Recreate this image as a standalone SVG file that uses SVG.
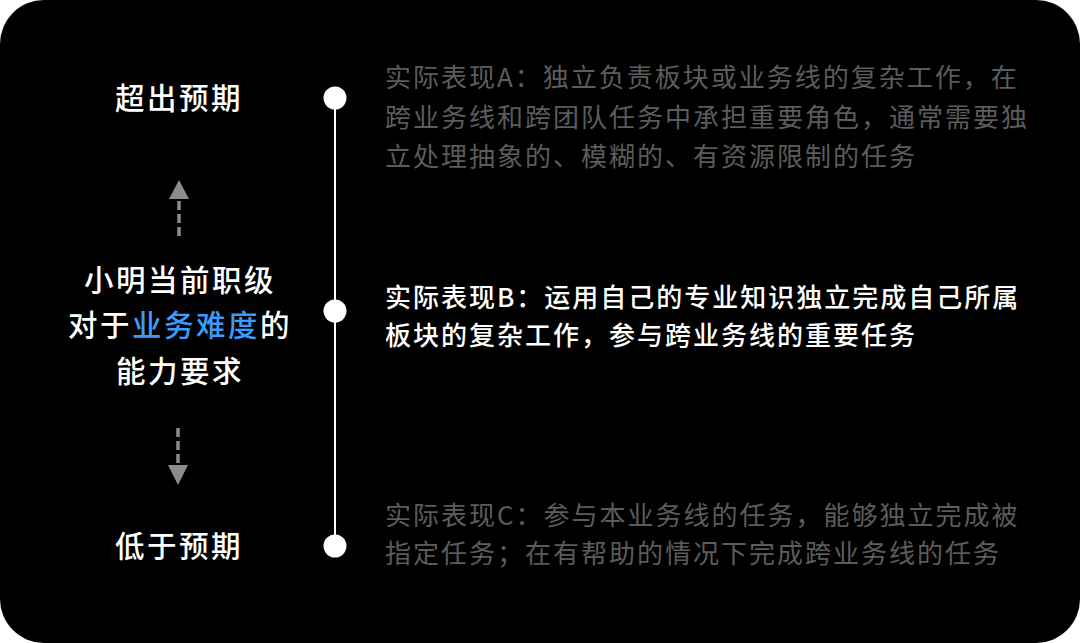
<svg xmlns="http://www.w3.org/2000/svg" width="1080" height="643" viewBox="0 0 1080 643">
<defs>
<style>
.lab{font-family:"Noto Sans CJK SC","Noto Sans",sans-serif;font-size:29.5px;font-weight:500;fill:#ffffff;text-anchor:middle;letter-spacing:2.5px;}
.hl{fill:#3a9cff;}
.desc{font-family:"Noto Sans CJK SC","Noto Sans",sans-serif;font-size:26px;letter-spacing:2px;}
.dim{fill:#5c5c5c;}
.bright{fill:#ffffff;font-weight:500;}
.dot{fill:#ffffff;}
.arr{stroke:#8c8c8c;stroke-width:3.5;stroke-dasharray:9 4;fill:none;}
.tri{fill:#8c8c8c;}
</style>
</defs>
<rect x="0" y="0" width="1080" height="643" fill="#ffffff"/>
<rect id="panel" x="0" y="0" width="1080" height="643" rx="44" ry="44" fill="#000000"/>
<g id="connectors">
<line x1="335" y1="98" x2="335" y2="546" stroke="#ffffff" stroke-width="2"/>
<line class="arr" x1="179" y1="236" x2="179" y2="200"/>
<polygon class="tri" points="179,180 169,199 189,199"/>
<line class="arr" x1="178" y1="428" x2="178" y2="465"/>
<polygon class="tri" points="178,485 168,465 188,465"/>
</g>
<g id="node-high">
<text class="lab" x="179" y="109">超出预期</text>
<circle class="dot" cx="335" cy="98" r="11.5"/>
<text class="desc dim" x="385" y="87">实际表现A：独立负责板块或业务线的复杂工作，在</text>
<text class="desc dim" x="385" y="127">跨业务线和跨团队任务中承担重要角色，通常需要独</text>
<text class="desc dim" x="385" y="166">立处理抽象的、模糊的、有资源限制的任务</text>
</g>
<g id="node-center">
<text class="lab" x="180" y="291">小明当前职级</text>
<text class="lab" x="180" y="336">对于<tspan class="hl">业务难度</tspan>的</text>
<text class="lab" x="180" y="382">能力要求</text>
</g>
<g id="node-mid">
<circle class="dot" cx="335" cy="311" r="11.5"/>
<text class="desc bright" x="385" y="307">实际表现B：运用自己的专业知识独立完成自己所属</text>
<text class="desc bright" x="385" y="345">板块的复杂工作，参与跨业务线的重要任务</text>
</g>
<g id="node-low">
<text class="lab" x="179" y="557">低于预期</text>
<circle class="dot" cx="335" cy="546" r="11.5"/>
<text class="desc dim" x="385" y="525">实际表现C：参与本业务线的任务，能够独立完成被</text>
<text class="desc dim" x="385" y="563">指定任务；在有帮助的情况下完成跨业务线的任务</text>
</g>
</svg>
